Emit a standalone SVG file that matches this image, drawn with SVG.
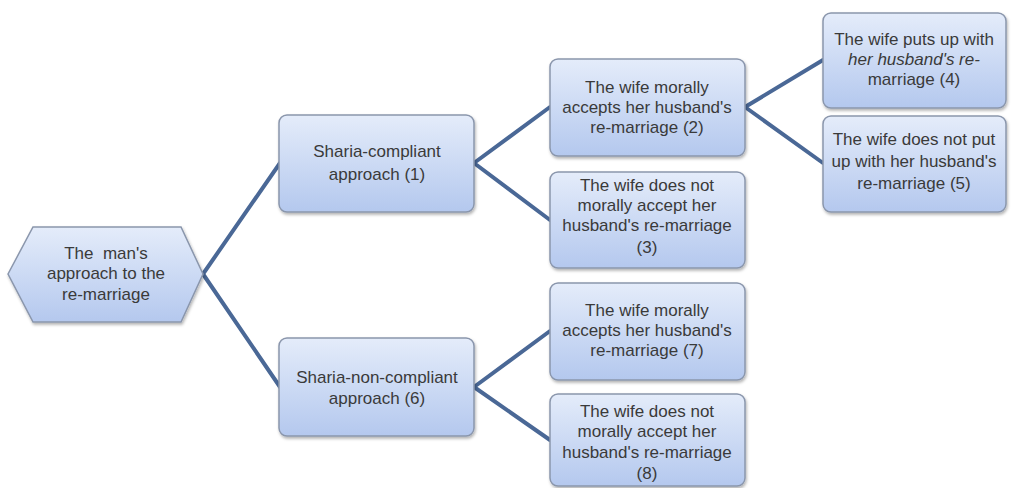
<svg xmlns="http://www.w3.org/2000/svg" width="1011" height="488" viewBox="0 0 1011 488">
<defs>
<linearGradient id="g" x1="0" y1="0" x2="0" y2="1">
<stop offset="0" stop-color="#e4ecfa"/>
<stop offset="1" stop-color="#b4c8ee"/>
</linearGradient>
<filter id="sh" x="-10%" y="-10%" width="120%" height="130%">
<feDropShadow dx="1" dy="2" stdDeviation="1.5" flood-color="#000" flood-opacity="0.3"/>
</filter>
<style>
.n{fill:url(#g);stroke:#8a96ac;stroke-width:1.5;filter:url(#sh)}
.t{font-family:"Liberation Sans",Arial,sans-serif;font-size:17px;fill:#3a3a3a;text-anchor:middle}
.c{stroke:#4a6896;stroke-width:4;fill:none;stroke-linecap:round}
</style>
</defs>
<rect width="1011" height="488" fill="#fff"/>
<g id="connectors">
<path class="c" d="M203 274 L280 163 M203 274 L280 387"/>
<path class="c" d="M474 163 L550 107 M474 163 L550 220"/>
<path class="c" d="M474 387 L550 331 M474 387 L550 440"/>
<path class="c" d="M745 107 L823 60 M745 107 L823 163"/>
</g>
<g id="n0">
<polygon class="n" points="8,274 33,227 181,227 203,274 181,322 33,322"/>
<text class="t" x="106" y="259">The&#160; man's</text>
<text class="t" x="106" y="279">approach to the</text>
<text class="t" x="106" y="300">re-marriage</text>
</g>
<g id="n1">
<rect class="n" x="279" y="115" width="195" height="97" rx="8"/>
<text class="t" x="377" y="157">Sharia-compliant</text>
<text class="t" x="377" y="180">approach (1)</text>
</g>
<g id="n2">
<rect class="n" x="550" y="59" width="195" height="97" rx="8"/>
<text class="t" x="647" y="93">The wife morally</text>
<text class="t" x="647" y="113">accepts her husband's</text>
<text class="t" x="647" y="133">re-marriage (2)</text>
</g>
<g id="n3">
<rect class="n" x="550" y="172" width="195" height="96" rx="8"/>
<text class="t" x="647" y="191">The wife does not</text>
<text class="t" x="647" y="211">morally accept her</text>
<text class="t" x="647" y="231">husband's re-marriage</text>
<text class="t" x="647" y="253">(3)</text>
</g>
<g id="n4">
<rect class="n" x="823" y="13" width="183" height="95" rx="8"/>
<text class="t" x="914" y="45">The wife puts up with</text>
<text class="t" x="914" y="65" font-style="italic">her husband's re-</text>
<text class="t" x="914" y="85">marriage (4)</text>
</g>
<g id="n5">
<rect class="n" x="823" y="116" width="183" height="96" rx="8"/>
<text class="t" x="914" y="145">The wife does not put</text>
<text class="t" x="914" y="167">up with her husband's</text>
<text class="t" x="914" y="189">re-marriage (5)</text>
</g>
<g id="n6">
<rect class="n" x="279" y="338" width="195" height="98" rx="8"/>
<text class="t" x="377" y="383">Sharia-non-compliant</text>
<text class="t" x="377" y="404">approach (6)</text>
</g>
<g id="n7">
<rect class="n" x="550" y="283" width="195" height="97" rx="8"/>
<text class="t" x="647" y="316">The wife morally</text>
<text class="t" x="647" y="336">accepts her husband's</text>
<text class="t" x="647" y="356">re-marriage (7)</text>
</g>
<g id="n8">
<rect class="n" x="550" y="394" width="195" height="92" rx="8"/>
<text class="t" x="647" y="417">The wife does not</text>
<text class="t" x="647" y="437">morally accept her</text>
<text class="t" x="647" y="458">husband's re-marriage</text>
<text class="t" x="647" y="479">(8)</text>
</g>
</svg>
